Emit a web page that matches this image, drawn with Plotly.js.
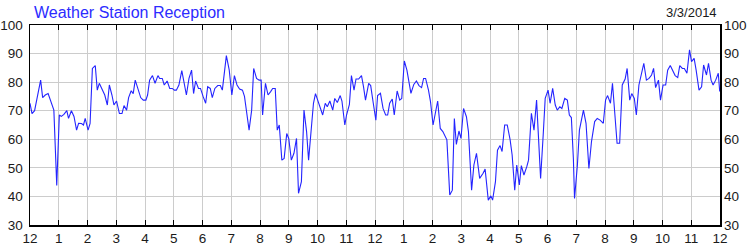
<!DOCTYPE html>
<html>
<head>
<meta charset="utf-8">
<script src="https://cdn.plot.ly/plotly-3.0.1.min.js"></script>
<style>html,body{margin:0;padding:0;background:#fff;}#chart{width:750px;height:250px;}</style>
</head>
<body>
<div id="chart"></div>
<script>
// x = months elapsed since the first "12" tick; y = reception (%)
var months = [0,0.07,0.16,0.26,0.37,0.44,0.53,0.63,0.72,0.83,0.93,1.02,1.09,1.18,1.28,1.34,1.44,1.53,1.62,1.69,1.79,1.86,1.92,2.02,2.09,2.17,2.27,2.34,2.41,2.50,2.60,2.69,2.76,2.85,2.92,3.01,3.11,3.20,3.27,3.36,3.43,3.52,3.59,3.66,3.76,3.85,3.94,4.03,
4.09,4.16,4.26,4.35,4.45,4.51,4.60,4.67,4.77,4.86,4.95,5.02,5.09,5.18,5.28,5.35,5.44,5.53,5.62,5.69,5.76,5.86,5.93,6.02,6.11,6.18,6.27,6.34,6.43,6.53,6.62,6.69,6.76,6.83,6.93,7.02,7.11,7.20,7.29,7.39,7.46,7.53,7.62,7.71,7.78,7.88,7.97,
8.04,8.09,8.19,8.28,8.37,8.44,8.53,8.60,8.67,8.76,8.84,8.93,9.00,9.09,9.18,9.27,9.34,9.44,9.53,9.62,9.69,9.79,9.86,9.93,10.02,10.11,10.18,10.27,10.34,10.43,10.53,10.60,10.69,10.79,10.85,10.95,11.01,11.11,11.18,11.27,11.34,11.43,11.53,11.60,11.67,11.78,11.85,11.94,12.03,
12.09,12.19,12.28,12.37,12.44,12.51,12.60,12.67,12.77,12.86,12.93,13.02,13.11,13.25,13.35,13.44,13.53,13.62,13.69,13.76,13.86,13.93,14.02,14.11,14.18,14.27,14.36,14.50,14.60,14.69,14.76,14.83,14.92,14.99,15.08,15.18,15.25,15.36,15.44,15.53,15.64,15.76,15.83,15.94,16.03,
16.09,16.19,16.26,16.35,16.42,16.51,16.60,16.70,16.77,16.86,16.93,17.02,17.09,17.18,17.28,17.34,17.44,17.53,17.62,17.69,17.76,17.85,17.92,18.02,18.09,18.18,18.27,18.34,18.43,18.50,18.60,18.69,18.76,18.83,18.90,18.94,19.04,19.11,19.18,19.25,19.34,19.44,19.53,19.64,19.73,19.83,19.94,
20.02,20.09,20.19,20.26,20.35,20.42,20.51,20.60,20.70,20.77,20.86,20.93,21.02,21.09,21.18,21.28,21.35,21.44,21.53,21.62,21.69,21.76,21.86,21.93,22.02,22.11,22.18,22.27,22.37,22.44,22.53,22.60,22.69,22.76,22.85,22.94,23.01,23.10,23.17,23.27,23.36,23.43,23.53,23.60,23.69,23.76,23.85,23.94,23.99];

var reception = [72.6,69,70,75,80.7,74.6,75.5,76,73.7,70.2,43.8,68.5,68,68.7,70,67.3,70,68,63.2,65.6,65.5,65,67.3,63.2,65.6,84.8,85.8,77.2,79.6,77.8,75.5,72,79,75.5,72,73.4,69,69,71.8,70.2,74.6,77,76,80.7,77.2,74.6,73.7,73.7,
75.5,80.7,82.3,79.6,82.3,81.3,81.3,79,80.4,77.8,77.8,77.2,77.2,79,84,79.6,75.5,81.3,84.2,76,80.4,77.8,77.8,75,72.6,78.4,77.8,74.6,77.8,78.8,78.8,77.2,83.7,89.3,84.2,75.5,82.3,79,77.6,77.2,75,70.2,63.2,70.2,84.8,81.3,80.7,
80.7,68.5,79.6,75.5,76.7,77.8,77.8,63.2,65,52.7,53.3,62,60.3,52.7,55.1,60.3,41.1,45.2,70.2,62.7,52.7,63.8,72.6,76,73.2,70.2,68.5,72.6,71.4,73.4,70.2,74.3,72.9,75.3,73.4,65,68.5,72.2,82.3,77.2,81.1,81.1,82.3,78.4,73.7,79.6,78.8,72.6,66.7,
75.3,76.1,70.8,68.5,68.5,72.6,74.1,68.5,76.9,73.7,74.3,87.4,84.2,76.1,79.2,80.4,78.8,78.1,81.3,81.3,77.2,73.2,65,69.1,73.4,63.8,62.7,59.8,40.5,42.2,67.3,58.2,62.9,60.3,70.8,67.9,62.7,42.2,51,55.1,46.3,48.1,49.6,38.7,40.2,
38.7,45.2,56.2,57.8,55.7,65,65,59.8,54.5,42.2,51,44,50.8,47.5,50.4,52.7,69.1,63.2,73.7,59.8,46.3,61.5,74.3,77.2,72.6,77.8,72,70.2,71.4,70.8,74.3,73.7,68.5,67.6,53.3,39.3,51,63.2,66.2,70.2,65.6,49.8,59.2,66.2,67.3,66.7,65.6,
73.7,75.3,72.6,79.6,67.3,58.6,58.6,79,81.1,84.8,73.7,76,74.3,68.5,79,83.1,86.6,80.7,81.3,82.5,84.8,78.1,80.7,73.7,79,79,84.2,85.8,83.7,82.3,81.6,85.8,84.8,84.8,83.1,91.3,87.2,88.3,84.2,77.2,78.4,86,82.5,86.6,80.7,79,80.7,83.1,76.7];

var tickPositions = [0,1,2,3,4,5,6,7,8,9,10,11,12,13,14,15,16,17,18,19,20,21,22,23,24];
var tickLabels = ["12","1","2","3","4","5","6","7","8","9","10","11","12","1","2","3","4","5","6","7","8","9","10","11","12"];
var chartTitle = "Weather Station Reception";
var chartDate = "3/3/2014";

var fontFam = "Liberation Sans, Arial, sans-serif";

var trace = {
  x: months, y: reception, type: "scatter", mode: "lines",
  line: {color: "#2424ff", width: 1.1},
  hoverinfo: "skip", showlegend: false
};

var layout = {
  width: 750, height: 250,
  margin: {l: 30, r: 30, t: 25, b: 25, pad: 0},
  paper_bgcolor: "#ffffff", plot_bgcolor: "#ffffff",
  font: {family: fontFam, size: 13, color: "#1a1a1a"},
  showlegend: false,
  xaxis: {
    range: [0, 24], tickmode: "array", tickvals: tickPositions, ticktext: tickLabels,
    showgrid: true, gridcolor: "#cccccc", gridwidth: 1,
    showline: true, linecolor: "#000000", linewidth: 1.5, mirror: "ticks",
    ticks: "inside", ticklen: 5, tickcolor: "#000000", tickwidth: 1,
    zeroline: false, tickfont: {family: fontFam, size: 13.5, color: "#1a1a1a"}
  },
  yaxis: {
    range: [30, 100], tickmode: "linear", tick0: 30, dtick: 10,
    showgrid: true, gridcolor: "#cccccc", gridwidth: 1,
    showline: true, linecolor: "#000000", linewidth: 1.5, mirror: true,
    ticks: "", zeroline: false, ticklabelstandoff: 3,
    tickfont: {family: fontFam, size: 13.5, color: "#1a1a1a"}
  },
  yaxis2: {
    range: [30, 100], tickmode: "linear", tick0: 30, dtick: 10,
    overlaying: "y", side: "right", showgrid: false, zeroline: false,
    showline: false, ticks: "", ticklabelstandoff: 3,
    tickfont: {family: fontFam, size: 13.5, color: "#1a1a1a"}
  },
  annotations: [
    {text: chartTitle, xref: "paper", yref: "paper", x: 0, y: 1.065, xanchor: "left", yanchor: "middle",
     xshift: 2, showarrow: false, font: {family: fontFam, size: 16, color: "#2b2bff"}},
    {text: chartDate, xref: "paper", yref: "paper", x: 1, y: 1.065, xanchor: "right", yanchor: "middle",
     xshift: -1, showarrow: false, font: {family: fontFam, size: 13, color: "#1a1a1a"}}
  ]
};

var trace2 = {x: [], y: [], yaxis: "y2", type: "scatter", mode: "lines", showlegend: false, hoverinfo: "skip"};

Plotly.newPlot("chart", [trace, trace2], layout, {staticPlot: true, displayModeBar: false});
</script>
</body>
</html>
